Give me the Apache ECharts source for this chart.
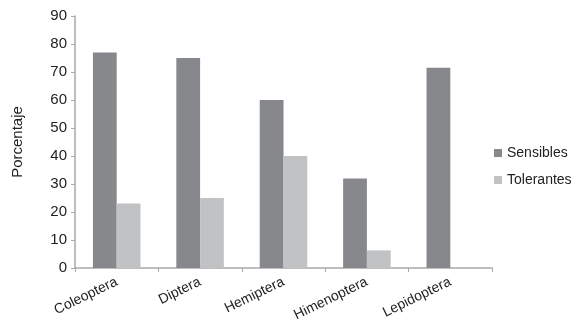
<!DOCTYPE html>
<html><head><meta charset="utf-8">
<script src="https://cdn.jsdelivr.net/npm/echarts@6/dist/echarts.min.js"></script>
<style>html,body{margin:0;padding:0;background:#fff}#c{width:579px;height:333px}</style>
</head><body><div id="c"></div>
<script>
const categories = ['Coleoptera','Diptera','Hemiptera','Himenoptera','Lepidoptera'];
const sensibles = [77, 75, 60, 32, 71.5];
const tolerantes = [23, 25, 40, 6.3, 0];
const seriesNames = ['Sensibles','Tolerantes'];
const yTicks = {min:0, max:90, interval:10};

const chart = echarts.init(document.getElementById('c'));
const font = 'Liberation Sans, Arial, sans-serif';
chart.setOption({
  animation:false,
  grid:{left:75, right:87, top:16, bottom:65},
  legend:{orient:'vertical', left:489, top:141, itemWidth:8, itemHeight:8, itemGap:13,
    icon:'rect', textStyle:{fontFamily:font, fontSize:14, color:'#222'},
    data:seriesNames},
  xAxis:{type:'category', data:categories,
    axisLine:{lineStyle:{color:'#a9a9a9', width:1.5}},
    axisTick:{show:true, length:4, lineStyle:{color:'#a9a9a9'}},
    axisLabel:{rotate:26, fontFamily:font, fontSize:14, color:'#222', margin:13}},
  yAxis:{type:'value', min:yTicks.min, max:yTicks.max, interval:yTicks.interval,
    name:'Porcentaje', nameLocation:'middle', nameGap:50, nameRotate:90,
    nameTextStyle:{fontFamily:font, fontSize:15, color:'#222'},
    axisLine:{show:true, lineStyle:{color:'#a9a9a9', width:1.5}},
    axisTick:{show:true, length:4, lineStyle:{color:'#a9a9a9'}},
    splitLine:{show:false},
    axisLabel:{fontFamily:font, fontSize:15, color:'#222', margin:8}},
  series:[
    {name:seriesNames[0], type:'bar', data:sensibles, barGap:'0%', barCategoryGap:'43%',
     itemStyle:{color:'#87888c'}},
    {name:seriesNames[1], type:'bar', data:tolerantes,
     itemStyle:{color:'#c1c2c4'}}
  ]
});
</script></body></html>
